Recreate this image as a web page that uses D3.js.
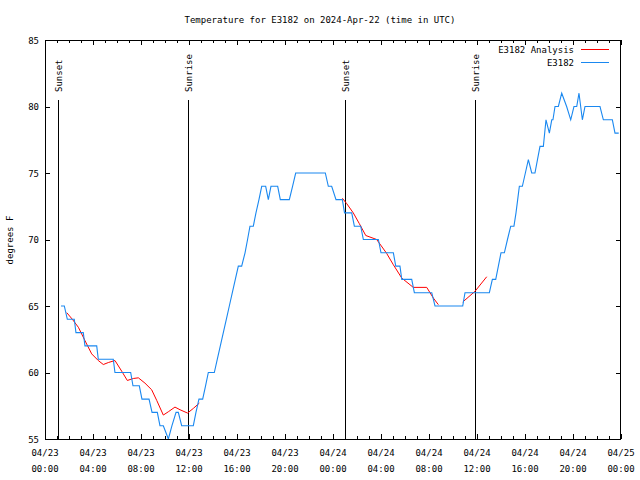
<!DOCTYPE html>
<html><head><meta charset="utf-8">
<script src="https://cdn.jsdelivr.net/npm/d3@7"></script>
<style>
html,body{margin:0;padding:0;background:#fff;}
text{font-family:"DejaVu Sans Mono","Liberation Mono",monospace;font-size:9px;fill:#000;}
</style></head>
<body><svg id="c" width="640" height="480"></svg>
<script>
// ---- data (hours after 2024-04-23 00:00 UTC, temperature in °F) ----
const obsHours = [1.33,1.61,1.86,2.44,2.58,3.19,3.33,4.31,4.44,5.69,5.83,7.14,7.33,7.86,8.08,8.67,8.92,9.36,9.58,9.86,10.28,10.58,10.92,11.11,11.39,12.36,12.58,12.83,13.14,13.38,13.61,14.11,14.36,14.61,14.86,15.11,15.36,15.61,15.86,16.11,16.39,16.67,16.88,17.08,17.36,17.58,17.83,18.06,18.39,18.61,18.83,19.39,19.61,20.36,20.63,20.89,23.36,23.61,23.89,24.25,24.78,24.96,25.56,25.78,26.31,26.53,27.78,28.0,29.03,29.23,29.58,29.73,30.56,30.78,32.23,32.5,34.81,35.0,37.03,37.28,37.56,37.78,38.0,38.28,38.54,38.81,39.08,39.25,39.39,39.53,39.78,40.03,40.28,40.56,40.83,41.04,41.25,41.53,41.75,42.03,42.23,42.33,42.5,42.78,43.06,43.47,43.81,44.08,44.31,44.5,44.78,45.0,46.25,46.53,47.28,47.5,47.81];
const obsTemps = [65,65,64,64,63,63,62,62,61,61,60,60,59,59,58,58,57,57,56,56,55,56,57,57,56,56,57,58,58,59,60,60,61,62,63,64,65,66,67,68,68,69,70,71,71,72,73,74,74,73,74,74,73,73,74,75,75,74,74,73,73,72,72,71,71,70,70,69,69,68,68,67,67,66,66,65,65,66,66,67,67,68,69,69,70,71,71,72,73,74,74,75,76,75,75,76,77,77,79,78,79,79,80,80,81,80,79,80,80,81,79,80,80,79,79,78,78];
// analysis series; null marks a gap
const anaHours = [1.81,2.28,2.78,3.33,3.89,4.44,4.86,5.28,5.83,6.39,6.86,7.36,7.78,8.33,8.89,9.31,9.86,10.28,10.83,11.25,11.88,12.36,12.86,null,24.78,25.14,25.69,26.19,26.73,27.64,28.47,29.03,29.73,30.69,31.81,32.36,32.78,null,34.81,35.83,36.81];
const anaTemps = [64.5,64.0,63.4,62.4,61.4,60.9,60.6,60.75,60.9,60.1,59.4,59.55,59.6,59.2,58.7,57.9,56.8,57.05,57.4,57.2,56.95,57.3,57.7,null,73.1,72.7,72.0,71.2,70.3,70.0,68.96,68.1,67.1,66.4,66.4,65.6,65.1,null,65.3,66.1,67.2];
const sunEvents = ["Sunset","Sunrise","Sunset","Sunrise"];
const sunHours = [1.1,11.95,25.03,35.86];
const yTicks = [55,60,65,70,75,80,85];
const xTickHours = [0,4,8,12,16,20,24,28,32,36,40,44,48];
const xTickDates = ["04/23","04/23","04/23","04/23","04/23","04/23","04/24","04/24","04/24","04/24","04/24","04/24","04/25"];
const xTickTimes = ["00:00","04:00","08:00","12:00","16:00","20:00","00:00","04:00","08:00","12:00","16:00","20:00","00:00"];
const seriesNames = ["E3182 Analysis","E3182"];
const seriesColors = ["#ff0000","#1a88f0"];
const titleText = "Temperature for E3182 on 2024-Apr-22 (time in UTC)";
const yLabel = "degrees F";

// ---- chart ----
const t0 = Date.UTC(2024,3,23,0,0);
const toDate = h => new Date(t0 + h*3600e3);
const L=45, R=621, T=40, B=439;
const svg = d3.select("#c");
const x = d3.scaleUtc().domain([toDate(0), toDate(48)]).range([L,R]);
const y = d3.scaleLinear().domain([55,85]).range([B,T]);

// minor/major ticks on x (bottom & top)
const hourly = d3.range(0,49).map(toDate);
const g = svg.append("g").attr("shape-rendering","crispEdges");
hourly.forEach((d,i)=>{
  const major = i%4===0; const len = major?5:3;
  const xx = Math.round(x(d))+0.5;
  g.append("line").attr("x1",xx).attr("x2",xx).attr("y1",B).attr("y2",B-len).attr("stroke","#000");
  g.append("line").attr("x1",xx).attr("x2",xx).attr("y1",T).attr("y2",T+len).attr("stroke","#000");
});
yTicks.forEach(v=>{
  const yy = Math.round(y(v))+0.5;
  g.append("line").attr("x1",L).attr("x2",L+5).attr("y1",yy).attr("y2",yy).attr("stroke","#000");
  g.append("line").attr("x1",R).attr("x2",R-5).attr("y1",yy).attr("y2",yy).attr("stroke","#000");
  svg.append("text").attr("x",L-6).attr("y",y(v)+3.5).attr("text-anchor","end").text(v);
});
xTickHours.forEach((h,i)=>{
  const xx = x(toDate(h));
  svg.append("text").attr("x",xx).attr("y",455.5).attr("text-anchor","middle").text(xTickDates[i]);
  svg.append("text").attr("x",xx).attr("y",471.5).attr("text-anchor","middle").text(xTickTimes[i]);
});

// sun lines
sunHours.forEach((h,i)=>{
  const xx = Math.round(x(toDate(h)))+0.5;
  g.append("line").attr("x1",xx).attr("x2",xx).attr("y1",100).attr("y2",B).attr("stroke","#000");
  svg.append("text").attr("transform",`translate(${xx+3.5},92) rotate(-90)`).attr("text-anchor","start").text(sunEvents[i]);
});

// data lines
const clip = svg.append("clipPath").attr("id","pc").append("rect").attr("x",L).attr("y",T).attr("width",R-L).attr("height",B-T);
const obs = obsHours.map((h,i)=>({t:toDate(h),v:obsTemps[i]}));
const ana = anaHours.map((h,i)=>({t:h===null?null:toDate(h),v:anaTemps[i]}));
const line = d3.line().defined(d=>d.t!==null && d.v!==null).x(d=>x(d.t)).y(d=>y(d.v));
svg.append("path").datum(ana).attr("d",line).attr("fill","none").attr("stroke",seriesColors[0]).attr("stroke-width",1).attr("clip-path","url(#pc)");
svg.append("path").datum(obs).attr("d",line).attr("fill","none").attr("stroke",seriesColors[1]).attr("stroke-width",1.1).attr("clip-path","url(#pc)");

// border
g.append("rect").attr("x",L+0.5).attr("y",T+0.5).attr("width",R-L-1).attr("height",B-T).attr("fill","none").attr("stroke","#000");

// legend
seriesNames.forEach((n,i)=>{
  const yy = 49 + i*13;
  svg.append("text").attr("x",574).attr("y",yy+3.5).attr("text-anchor","end").text(n);
  g.append("line").attr("x1",581).attr("x2",609).attr("y1",yy+0.5).attr("y2",yy+0.5).attr("stroke",seriesColors[i]);
});

// title & y label
svg.append("text").attr("x",320).attr("y",22.5).attr("text-anchor","middle").text(titleText);
svg.append("text").attr("transform","translate(13,240) rotate(-90)").attr("text-anchor","middle").text(yLabel);
</script>
</body></html>
